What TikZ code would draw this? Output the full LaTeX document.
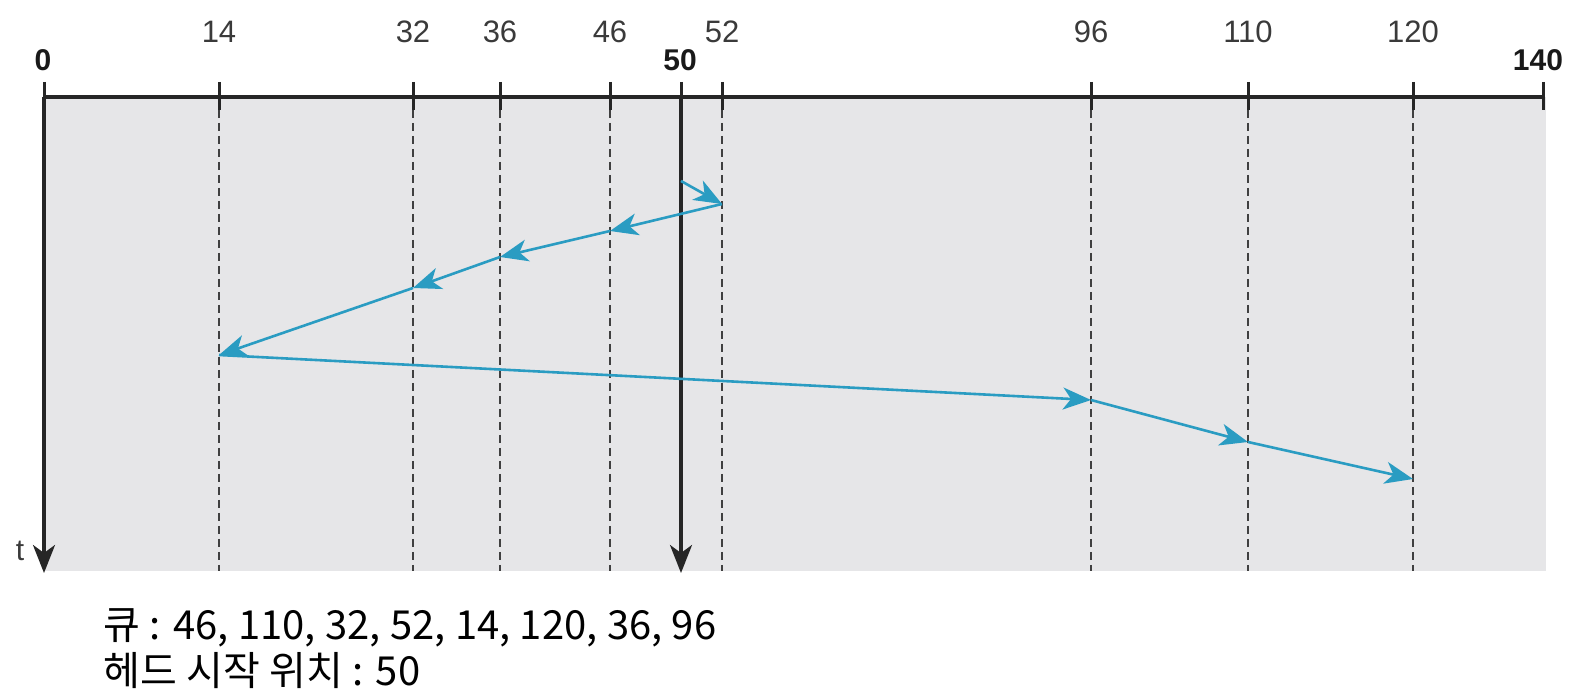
\documentclass[tikz,border=0pt]{standalone}
\usepackage{fontspec}
\setmainfont{Liberation Sans}
\newfontfamily\kr[WordSpace={1.05}]{Noto Sans CJK KR}
\usetikzlibrary{arrows.meta}
\definecolor{bgray}{HTML}{E6E6E8}
\definecolor{seek}{HTML}{2A9CC2}
\definecolor{lbl}{HTML}{3A3A3A}
\begin{document}
\begin{tikzpicture}[x=0.5pt,y=-0.5pt,
  axisline/.style={line width=1.6pt,black!85},
  tickmark/.style={line width=1.5pt,black!85},
  guide/.style={line width=0.85pt,black!75,dash pattern=on 4pt off 2.5pt},
  timearrow/.style={line width=1.6pt,black!85,-{Stealth[length=14pt,width=11pt,inset=4pt]}},
  seekarrow/.style={line width=1.3pt,seek,-{Stealth[length=14pt,width=11pt,inset=4pt]}},
  ticklbl/.style={font=\fontsize{15.5pt}{15.5pt}\selectfont,text=lbl,anchor=base,inner sep=0pt},
  boldlbl/.style={font=\fontsize{15pt}{15pt}\selectfont\bfseries,text=black!90,anchor=base,inner sep=0pt},
  captxt/.style={font=\kr\fontsize{20pt}{20pt}\selectfont,anchor=base west,inner sep=0pt}]
\useasboundingbox (0,0) rectangle (1576,695);
\fill[bgray] (44,97) rectangle (1546,571);
% tick positions
\foreach \n/\x in {0/44,14/219,32/413,36/500,46/610,50/681,52/722,96/1091,110/1248,120/1413,140/1543}{
  \coordinate (t\n) at (\x,97);
  \draw[tickmark] (\x,82) -- (\x,110);
}
\draw[axisline] (t0) -- (t140);
% dashed guides
\foreach \x in {219,413,500,610,722,1091,1248,1413}{
  \draw[guide] (\x,110) -- (\x,571);
}
% time arrows
\coordinate (b0) at (44,573);
\coordinate (b50) at (681,573);
\draw[timearrow] (t0) -- (b0);
\draw[timearrow] (t50) -- (b50);
% labels
\foreach \n/\x in {14/219,32/413,36/500,46/610,52/722,96/1091,110/1248,120/1413}{
  \node[ticklbl] (l\n) at (\x,43) {\n};
}
\node[boldlbl] (l0) at (43,71) {0};
\node[boldlbl] (l50) at (680,71) {50};
\node[boldlbl] (l140) at (1538,71) {140};
\node[font=\fontsize{15pt}{15pt}\selectfont,text=lbl,anchor=base,inner sep=0pt] (lt) at (20,560) {t};
% seek path
\coordinate (s0) at (681,181);
\coordinate (s52) at (722,204);
\coordinate (s46) at (610,231);
\coordinate (s36) at (500,257);
\coordinate (s32) at (413,288);
\coordinate (s14) at (219,355);
\coordinate (s96) at (1091,400);
\coordinate (s110) at (1248,442);
\coordinate (s120) at (1413,479);
\draw[seekarrow] (s0) -- (s52);
\draw[seekarrow] (s52) -- (s46);
\draw[seekarrow] (s46) -- (s36);
\draw[seekarrow] (s36) -- (s32);
\draw[seekarrow] (s32) -- (s14);
\draw[seekarrow] (s14) -- (s96);
\draw[seekarrow] (s96) -- (s110);
\draw[seekarrow] (s110) -- (s120);
% caption
\node[captxt] (q) at (103,639) {큐 : 46, 110, 32, 52, 14, 120, 36, 96};
\node[captxt] (h) at (103,685) {헤드 시작 위치 : 50};
\end{tikzpicture}
\end{document}
